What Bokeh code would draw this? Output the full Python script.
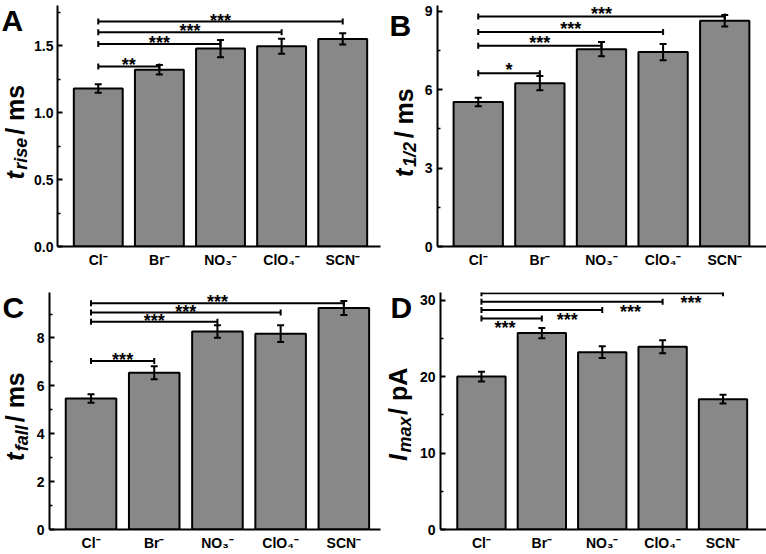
import numpy as np
from bokeh.plotting import figure
from bokeh.models import Range1d, FixedTicker, PrintfTickFormatter
from bokeh.layouts import column, row
from bokeh.embed import file_html
from bokeh.resources import INLINE
from bokeh.core.properties import value

# ---------------- data ----------------
categories = ["Cl⁻", "Br⁻", "NO₃⁻", "ClO₄⁻", "SCN⁻"]

t_rise = [1.18, 1.32, 1.478, 1.496, 1.55]
t_rise_err = [0.032, 0.036, 0.065, 0.056, 0.042]
t_rise_sig_y = [1.345, 1.513, 1.60, 1.68]
t_rise_sig_to = [2, 3, 4, 5]
t_rise_stars = ["**", "***", "***", "***"]

t_half = [5.53, 6.25, 7.55, 7.44, 8.64]
t_half_err = [0.16, 0.27, 0.27, 0.31, 0.22]
t_half_sig_y = [6.63, 7.68, 8.21, 8.80]
t_half_sig_to = [2, 3, 4, 5]
t_half_stars = ["*", "***", "***", "***"]

t_fall = [5.47, 6.55, 8.27, 8.18, 9.25]
t_fall_err = [0.18, 0.27, 0.26, 0.35, 0.29]
t_fall_sig_y = [7.04, 8.68, 9.06, 9.45]
t_fall_sig_to = [2, 3, 4, 5]
t_fall_stars = ["***", "***", "***", "***"]

i_max = [20.0, 25.7, 23.2, 23.9, 17.05]
i_max_err = [0.65, 0.67, 0.76, 0.85, 0.56]
i_max_sig_y = [27.6, 28.7, 29.8, 30.9]
i_max_sig_to = [2, 3, 4, 5]
i_max_stars = ["***", "***", "***", "***"]
i_max_star_x = [1.39, 2.42, 3.47, 4.47]

ticks_A = [0, 0.5, 1.0, 1.5]
minor_A = [0.25, 0.75, 1.25, 1.75]
ticks_B = [0, 3, 6, 9]
minor_B = [1.5, 4.5, 7.5]
ticks_C = [0, 2, 4, 6, 8]
minor_C = [1, 3, 5, 7, 9]
ticks_D = [0, 10, 20, 30]
minor_D = [5, 15, 25]

# ---------------- styling helpers ----------------
FONT = "Liberation Sans"
BAR_FILL = "#888888"
BL = 0.35  # empirical baseline correction (em) for rendered text
ARIAL_W = {'t': .333, 'r': .389, 'i': .278, 's': .556, 'e': .556, '1': .556,
           '/': .278, '2': .556, 'f': .333, 'a': .556, 'l': .278, 'I': .278,
           'm': .889, 'x': .556, ' ': .278, 'p': .611, 'A': .722}


def text_w(s, size):
    return sum(ARIAL_W.get(c, .556) for c in s) * size


def make_panel(vals, errs, sig_y, sig_to, stars, ticks, minor, fmt, yend, xr,
               width, height, borders, star_dy, star_x=None, standoff=5):
    left, right, top, bottom = borders
    p = figure(width=width, height=height, output_backend="svg",
               toolbar_location=None,
               x_range=Range1d(xr[0], xr[1]), y_range=Range1d(0, yend),
               min_border_left=left, min_border_right=right,
               min_border_top=top, min_border_bottom=bottom)
    p.outline_line_color = None
    p.grid.visible = False
    p.background_fill_color = "white"
    p.border_fill_color = "white"

    plot_h = height - top - bottom
    scale = plot_h / yend

    xs = list(range(1, len(categories) + 1))

    xa = p.xaxis[0]
    xa.ticker = FixedTicker(ticks=xs)
    xa.major_label_overrides = {x: c for x, c in zip(xs, categories)}
    xa.major_tick_in = 0
    xa.major_tick_out = 0
    xa.minor_tick_in = 0
    xa.minor_tick_out = 0
    xa.axis_line_width = 2
    xa.major_label_text_font = FONT
    xa.major_label_text_font_style = "bold"
    xa.major_label_text_font_size = "14px"
    xa.major_label_text_color = "black"
    xa.major_label_standoff = 5

    ya = p.yaxis[0]
    ya.ticker = FixedTicker(ticks=ticks, minor_ticks=minor)
    ya.formatter = PrintfTickFormatter(format=fmt)
    ya.major_tick_in = 5
    ya.major_tick_out = 0
    ya.minor_tick_in = 3
    ya.minor_tick_out = 0
    ya.major_tick_line_width = 2
    ya.minor_tick_line_width = 1.5
    ya.axis_line_width = 2
    ya.major_label_text_font = FONT
    ya.major_label_text_font_style = "bold"
    ya.major_label_text_font_size = "14px"
    ya.major_label_text_color = "black"
    ya.major_label_standoff = standoff

    p.vbar(x=xs, top=vals, width=0.8, bottom=0, fill_color=BAR_FILL,
           line_color="black", line_width=2)

    lo = [v - e for v, e in zip(vals, errs)]
    hi = [v + e for v, e in zip(vals, errs)]
    p.segment(x0=xs, y0=lo, x1=xs, y1=hi, line_color="black", line_width=2)
    p.scatter(x=xs + xs, y=lo + hi, marker="dash", size=7,
              line_color="black", line_width=2)

    x0s = [1] * len(sig_y)
    p.segment(x0=x0s, y0=sig_y, x1=sig_to, y1=sig_y, line_color="black",
              line_width=2)
    p.scatter(x=x0s + list(sig_to), y=list(sig_y) + list(sig_y), marker="dash",
              angle=np.pi / 2, size=6, line_color="black", line_width=2)
    if star_x is None:
        star_x = [(a + b) / 2 for a, b in zip(x0s, sig_to)]
    star_y = [y - star_dy / scale for y in sig_y]
    p.text(x=star_x, y=star_y, text=stars, text_align="center",
           text_baseline="alphabetic", text_font=value(FONT),
           text_font_style="bold", text_font_size="18px", text_color="black")
    return p


def make_label_fig(width, height, pieces, base, letter, letter_pos):
    f = figure(width=width, height=height, output_backend="svg",
               toolbar_location=None, x_range=Range1d(0, width),
               y_range=Range1d(0, height), min_border=0,
               x_axis_location=None, y_axis_location=None)
    f.outline_line_color = None
    f.grid.visible = False
    f.background_fill_color = "white"
    f.border_fill_color = "white"
    bx, by = base
    pos = 0.0
    for txt, size, italic, sub, gap in pieces:
        f.text(x=[bx + (4 if sub else 0) - BL * size], y=[by + pos],
               text=[txt], angle=np.pi / 2, text_font=value(FONT),
               text_font_style="bold italic" if italic else "bold",
               text_font_size=f"{size}px", text_color="black",
               text_align="left", text_baseline="alphabetic")
        pos += text_w(txt, size) + gap
    lx, ly = letter_pos
    f.text(x=[lx], y=[ly], text=[letter], text_font=value(FONT),
           text_font_style="bold", text_font_size="30px", text_color="black",
           text_align="left", text_baseline="alphabetic")
    return f


H1 = 277
H2 = 277

labA = make_label_fig(31, H1,
                      [("t", 25, True, False, 3), ("rise", 18, True, True, 8),
                       ("/ ms", 25, False, False, 0)],
                      (23, 77), "A", (1, 259.5))
pA = make_panel(t_rise, t_rise_err, t_rise_sig_y, t_rise_sig_to, t_rise_stars,
                ticks_A, minor_A, "%.1f", 1.8, (0.333, 5.618), 352, H1,
                (24, 3, 5, 30), -1, standoff=4)

labB = make_label_fig(38, H1,
                      [("t", 25, True, False, 3), ("1/2", 18, True, True, 8),
                       ("/ ms", 25, False, False, 0)],
                      (29, 80), "B", (6, 254))
pB = make_panel(t_half, t_half_err, t_half_sig_y, t_half_sig_to, t_half_stars,
                ticks_B, minor_B, "%d", 9.22, (0.339, 5.678), 345, H1,
                (14, 0, 1, 31), -3)

labC = make_label_fig(32, H2,
                      [("t", 25, True, False, 3), ("fall", 18, True, True, 8),
                       ("/ ms", 25, False, False, 0)],
                      (23.5, 80), "C", (2, 260))
pC = make_panel(t_fall, t_fall_err, t_fall_sig_y, t_fall_sig_to, t_fall_stars,
                ticks_C, minor_C, "%d", 9.9, (0.343, 5.58), 351, H2,
                (17, 3, 10, 25), -1)

labD = make_label_fig(33, H2,
                      [("I", 25, True, False, 3), ("max", 18, True, True, 8),
                       ("/ pA", 25, False, False, 0)],
                      (23.5, 80), "D", (7, 259))
pD = make_panel(i_max, i_max_err, i_max_sig_y, i_max_sig_to, i_max_stars,
                ticks_D, minor_D, "%d", 31.0, (0.322, 5.72), 350, H2,
                (22, 0, 15, 24), 10, star_x=i_max_star_x)

layout = column(row(labA, pA, labB, pB), row(labC, pC, labD, pD))

with open("out.html", "w") as f:
    f.write(file_html(layout, INLINE))
